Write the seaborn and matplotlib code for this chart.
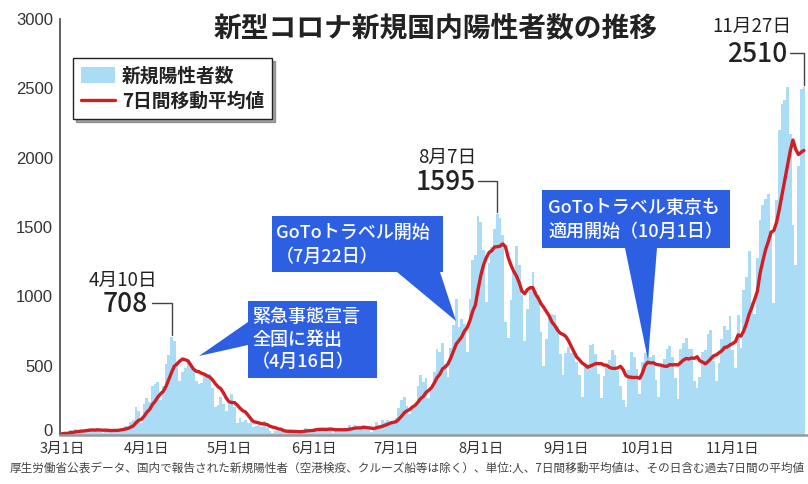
import numpy as np
import pandas as pd
import matplotlib
matplotlib.use('Agg')
import matplotlib.pyplot as plt
import seaborn as sns
from matplotlib.patches import Polygon
from matplotlib.lines import Line2D
from matplotlib.transforms import ScaledTranslation

# daily new positive cases, 2020-03-01 .. 2020-11-27
mar = [9, 14, 12, 33, 27, 43, 36, 32, 20, 35, 46, 45, 32, 48, 24, 12, 39, 32, 37, 40,
       46, 39, 38, 64, 65, 96, 110, 200, 170, 87, 220]
apr = [266, 235, 353, 368, 383, 252, 351, 515, 576, 708, 680, 507, 391, 457, 480, 520,
       500, 480, 391, 366, 378, 437, 430, 440, 338, 201, 214, 276, 224, 174]
may = [254, 294, 203, 87, 122, 96, 108, 84, 113, 58, 63, 85, 55, 99, 48, 30, 18, 31, 26, 40,
       27, 20, 28, 19, 21, 14, 34, 38, 47, 38, 27]
jun = [38, 51, 41, 48, 40, 40, 47, 18, 33, 38, 44, 43, 46, 70, 41, 71, 45, 41, 69, 42,
       52, 22, 55, 92, 71, 105, 94, 105, 85, 86]
jul = [125, 196, 250, 273, 206, 152, 207, 214, 355, 430, 385, 408, 266, 334, 451, 622,
       595, 660, 509, 419, 631, 795, 981, 778, 837, 803, 598, 981, 1264, 1301, 1580]
aug = [1536, 1331, 959, 1243, 1356, 1485, 1595, 1566, 1442, 813, 700, 974, 1177, 1360,
       1228, 1013, 681, 906, 1071, 1179, 1036, 1009, 740, 497, 689, 850, 873, 866, 786,
       581, 432]
sep = [591, 632, 589, 591, 524, 435, 271, 500, 509, 650, 654, 586, 437, 267, 427, 500,
       540, 611, 577, 465, 352, 252, 200, 470, 600, 560, 479, 296, 523, 591]
oct_ = [627, 559, 575, 398, 274, 496, 545, 619, 644, 562, 412, 259, 620, 666, 699, 617,
        618, 390, 341, 415, 600, 613, 730, 759, 537, 393, 520, 694, 784, 760, 857]
nov = [611, 485, 862, 631, 1045, 1139, 1327, 960, 875, 1279, 1547, 1657, 1704, 1738,
       1439, 952, 1696, 2201, 2386, 2418, 2508, 2168, 1514, 1225, 1943, 2498, 2510]

tick_dates = ['2020-03-01', '2020-04-01', '2020-05-01', '2020-06-01', '2020-07-01',
              '2020-08-01', '2020-09-01', '2020-10-01', '2020-11-01']
tick_labels = ['3月1日', '4月1日', '5月1日', '6月1日', '7月1日', '8月1日', '9月1日',
               '10月1日', '11月1日']
peak_dates = ['2020-04-10', '2020-08-07', '2020-11-27']

cases = mar + apr + may + jun + jul + aug + sep + oct_ + nov
dates = pd.date_range('2020-03-01', periods=len(cases), freq='D')
df = pd.DataFrame({'day': np.arange(len(cases)), 'cases': cases})
df['ma7'] = df['cases'].rolling(7, min_periods=1).mean()

def day_of(s):
    return (pd.Timestamp(s) - dates[0]).days

sns.set_style('white')
plt.rcParams['font.family'] = ['Noto Sans CJK JP', 'DejaVu Sans']

W, H = 808, 484
fig = plt.figure(figsize=(W / 100, H / 100), dpi=100)
ax = fig.add_axes([60 / W, 49 / H, 748 / W, 416 / H])

def P(px, py):
    return (px / W, 1 - py / H)

sns.barplot(data=df, x='day', y='cases', native_scale=True, color='#aadcf5',
            saturation=1, width=1.0, linewidth=0, errorbar=None, ax=ax,
            label='新規陽性者数')
sns.lineplot(data=df, x='day', y='ma7', color='#d01e24', lw=2.4, ax=ax,
             label='7日間移動平均値')

ax.set_xlim(-0.73, 272.5)
ax.set_ylim(0, 3000)
ax.set_xticks([day_of(d) for d in tick_dates], tick_labels)
ax.set_yticks(range(0, 3001, 500))
ax.set_xlabel('')
ax.set_ylabel('')
ax.tick_params(axis='both', length=0, colors='#333333')
ax.tick_params(axis='x', labelsize=10.5, pad=5)
ax.tick_params(axis='y', labelsize=12, pad=5)
for lbl in ax.get_yticklabels():
    lbl.set_fontfamily(['Liberation Sans', 'DejaVu Sans'])
# the "0" label sits a little above the baseline in the original
zero_lbl = ax.get_yticklabels()[0]
zero_lbl.set_transform(zero_lbl.get_transform() + ScaledTranslation(0, 5 / 100, fig.dpi_scale_trans))
sns.despine(ax=ax)
ax.spines['left'].set_color('#555555')
ax.spines['left'].set_linewidth(1.3)
ax.spines['bottom'].set_color('#999999')
ax.spines['bottom'].set_linewidth(1.8)

# legend, bars first
h, l = ax.get_legend_handles_labels()
order = [l.index('新規陽性者数'), l.index('7日間移動平均値')]
leg = ax.legend([h[i] for i in order], [l[i] for i in order], loc='upper left',
                bbox_to_anchor=(13 / 748, 1 - 39 / 416),
                borderaxespad=0, frameon=True, fancybox=False, shadow=True,
                prop={'size': 13.5, 'weight': 'bold'}, handlelength=1.8,
                handleheight=0.9, handletextpad=0.35, labelspacing=0.35,
                borderpad=0.45)
leg.get_frame().set_edgecolor('#222222')
leg.get_frame().set_linewidth(1)
for t in leg.get_texts():
    t.set_color('#222222')

# title
fig.text(*P(436, 28), '新型コロナ新規国内陽性者数の推移', ha='center', va='center',
         fontsize=20, weight='bold', color='#222222')

# peak labels with leader lines
peak_pos = [((123, 280), (125, 304), 152), ((447, 157), (446, 182), 478),
            ((752, 26), (757, 54), 790)]
for d, (dpos, vpos, lead_x) in zip(peak_dates, peak_pos):
    i = day_of(d)
    ts = pd.Timestamp(d)
    val = cases[i]
    fig.text(*P(*dpos), f'{ts.month}月{ts.day}日', ha='center', va='center',
             fontsize=13.5, color='#222222')
    fig.text(*P(*vpos), f'{val}', ha='center', va='center', fontsize=19,
             weight='medium', color='#222222')
    xd, yd = ax.transData.transform((i, val))
    ly = H - vpos[1] + 1
    fig.add_artist(Line2D([lead_x / W, xd / W, xd / W], [ly / H, ly / H, (yd + 2) / H],
                          transform=fig.transFigure, color='#444444', lw=1))

# blue callouts
blue = '#2d5fe3'
callouts = [
    ([(248, 301), (377, 301), (377, 378), (248, 378), (248, 345), (199, 356), (248, 322)],
     ['緊急事態宣言', '全国に発出', '（4月16日）'], 252, [317, 340, 362]),
    ([(272, 216), (443, 216), (443, 272), (440, 272), (456, 321), (397, 272), (272, 272)],
     ['GoToトラベル開始', '（7月22日）'], 276, [233, 257]),
    ([(542, 190), (730, 190), (730, 248), (657, 248), (648, 360), (625, 248), (542, 248)],
     ['GoToトラベル東京も', '適用開始（10月1日）'], 548, [208, 232]),
]
for pts, lines, tx, tys in callouts:
    fig.add_artist(Polygon([P(*p) for p in pts], closed=True, transform=fig.transFigure,
                           facecolor=blue, edgecolor='none', zorder=5))
    for s, ty in zip(lines, tys):
        fig.text(*P(tx, ty), s, ha='left', va='center', fontsize=13, weight='medium',
                 color='white', zorder=6)

# source note
fig.text(*P(10, 468), '厚生労働省公表データ、国内で報告された新規陽性者（空港検疫、クルーズ船等は除く）、'
         '単位:人、7日間移動平均値は、その日含む過去7日間の平均値',
         ha='left', va='center', fontsize=8.4, color='#444444')

fig.savefig('out.png', dpi=100)
